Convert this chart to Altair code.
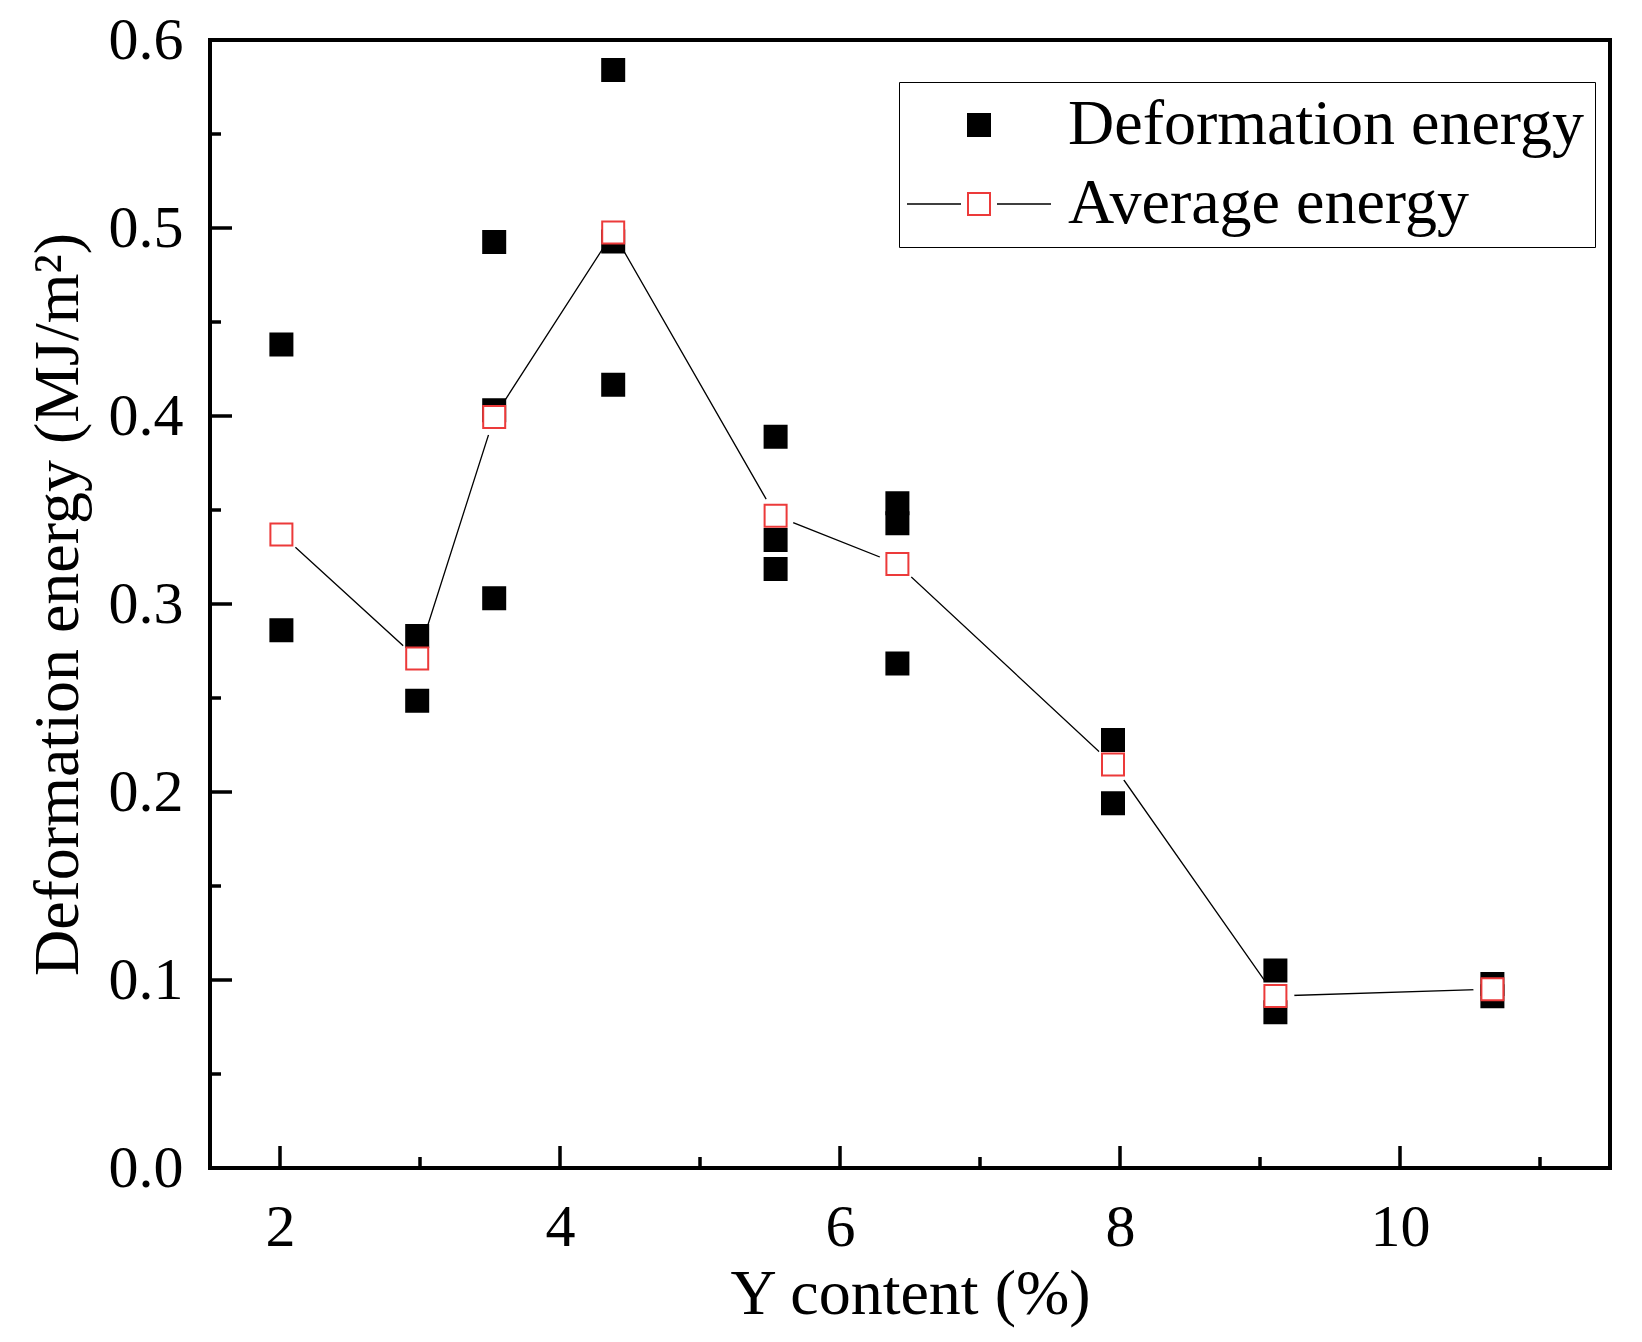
import altair as alt
import pandas as pd

FONT = "Liberation Serif"
RED = "#ec3a3a"

# ---- data ----
series_names = ["Deformation energy", "Average energy"]

avg_content = [2.01, 2.98, 3.53, 4.38, 5.54, 6.41, 7.95, 9.11, 10.66]
avg_energy = [0.337, 0.271, 0.3995, 0.4976, 0.347, 0.3213, 0.2146, 0.0915, 0.0951]

sample_content = [2.01, 2.01, 2.98, 2.98, 3.53, 3.53, 3.53, 4.38, 4.38, 4.38,
                  5.54, 5.54, 5.54, 6.41, 6.41, 6.41, 7.95, 7.95, 9.11, 9.11,
                  10.66, 10.66]
sample_energy = [0.438, 0.286, 0.283, 0.2485, 0.4926, 0.403, 0.303, 0.584,
                 0.4928, 0.4166, 0.389, 0.334, 0.3186, 0.3536, 0.343, 0.2683,
                 0.2277, 0.194, 0.1051, 0.0828, 0.0979, 0.0913]

x_major = [2, 4, 6, 8, 10]
x_minor = [3, 5, 7, 9, 11]
y_major = [0.0, 0.1, 0.2, 0.3, 0.4, 0.5, 0.6]
y_minor = [0.05, 0.15, 0.25, 0.35, 0.45, 0.55]

# ---- tables ----
pts_df = pd.DataFrame({"x": sample_content, "y": sample_energy,
                       "series": series_names[0]})
avg_df = pd.DataFrame({"x": avg_content, "y": avg_energy,
                       "series": series_names[1], "line_series": series_names[1]})
xmaj_df = pd.DataFrame({"x": x_major})
xmin_df = pd.DataFrame({"x": x_minor})
ymaj_df = pd.DataFrame({"y": y_major})
ymin_df = pd.DataFrame({"y": y_minor})

W, H = 1400, 1128

xscale = alt.Scale(domain=[1.5, 11.5], nice=False, zero=False)
yscale = alt.Scale(domain=[0, 0.6], nice=False, zero=False)

xaxis = alt.Axis(values=x_major, format="d", ticks=False, tickSize=0, domain=False,
                 grid=False, labelPadding=30, labelFontSize=60, labelFont=FONT,
                 labelColor="black", labelFlush=False, labelOverlap=False,
                 titleFont=FONT, titleFontSize=64, titleFontWeight="normal",
                 titleColor="black", titleX=700, titleY=145,
                 titleBaseline="alphabetic", titleAlign="center")
yaxis = alt.Axis(values=y_major, format=".1f", ticks=False, tickSize=0, domain=False,
                 grid=False, labelPadding=27, labelFontSize=60, labelFont=FONT,
                 labelColor="black", labelFlush=False, labelOverlap=False,
                 titleFont=FONT, titleFontSize=64, titleFontWeight="normal",
                 titleColor="black", titleX=-133, titleY=564, titleAngle=270,
                 titleBaseline="alphabetic", titleAlign="center")

XT = "Y content (%)"
YT = "Deformation energy (MJ/m\u00b2)"


def X(f):
    return alt.X(f, type="quantitative", scale=xscale, axis=xaxis, title=XT)


def Y(f):
    return alt.Y(f, type="quantitative", scale=yscale, axis=yaxis, title=YT)


legend_pts = alt.Legend(
    orient="none", legendX=689, legendY=42, title=None,
    symbolType="square", symbolSize=484, symbolStrokeWidth=2, symbolOffset=37,
    labelFont=FONT, labelFontSize=64, labelColor="black", labelOffset=57,
    labelLimit=0, padding=11, rowPadding=15, strokeColor="black",
)
legend_line = alt.Legend(
    orient="none", legendX=696, legendY=91, title=None,
    symbolType="M-1,0H-0.25M0.25,0H1", symbolSize=20736, symbolStrokeWidth=1.3,
    labelExpr="''", labelFontSize=64, padding=0,
)

fill_scale = alt.Scale(domain=series_names, range=["black", "white"])
stroke_scale = alt.Scale(domain=series_names, range=["black", RED])

line = alt.Chart(avg_df).mark_line(strokeWidth=1.3).encode(
    x=X("x"), y=Y("y"),
    color=alt.Color("line_series:N",
                    scale=alt.Scale(domain=[series_names[1]], range=["black"]),
                    legend=legend_line),
)
halo = alt.Chart(avg_df).mark_point(shape="circle", filled=True, size=1444,
                                    color="white", opacity=1, strokeWidth=0).encode(
    x=X("x"), y=Y("y"))
black_pts = alt.Chart(pts_df).mark_point(shape="square", filled=True, size=484,
                                         strokeWidth=2, opacity=1).encode(
    x=X("x"), y=Y("y"),
    fill=alt.Fill("series:N", scale=fill_scale, legend=legend_pts),
    stroke=alt.Stroke("series:N", scale=stroke_scale, legend=legend_pts),
)
red_pts = alt.Chart(avg_df).mark_point(shape="square", filled=True, size=484,
                                       strokeWidth=2, opacity=1).encode(
    x=X("x"), y=Y("y"),
    fill=alt.Fill("series:N", scale=fill_scale, legend=legend_pts),
    stroke=alt.Stroke("series:N", scale=stroke_scale, legend=legend_pts),
)

# inward ticks
xt_major = alt.Chart(xmaj_df).mark_rule(color="black", strokeWidth=3.5).encode(
    x=X("x"), y=alt.value(H), y2=alt.value(H - 22))
xt_minor = alt.Chart(xmin_df).mark_rule(color="black", strokeWidth=3.5).encode(
    x=X("x"), y=alt.value(H), y2=alt.value(H - 11))
yt_major = alt.Chart(ymaj_df).mark_rule(color="black", strokeWidth=3.5).encode(
    y=Y("y"), x=alt.value(0), x2=alt.value(22))
yt_minor = alt.Chart(ymin_df).mark_rule(color="black", strokeWidth=3.5).encode(
    y=Y("y"), x=alt.value(0), x2=alt.value(11))

chart = alt.layer(
    xt_major, xt_minor, yt_major, yt_minor, line, halo, black_pts, red_pts
).properties(
    width=W, height=H,
    autosize=alt.AutoSizeParams(type="none"),
    padding={"left": 202, "top": 32, "right": 20, "bottom": 170},
    background="white",
).configure_view(stroke="black", strokeWidth=4)

chart.save("out.html", embed_options={"renderer": "svg", "actions": False})
